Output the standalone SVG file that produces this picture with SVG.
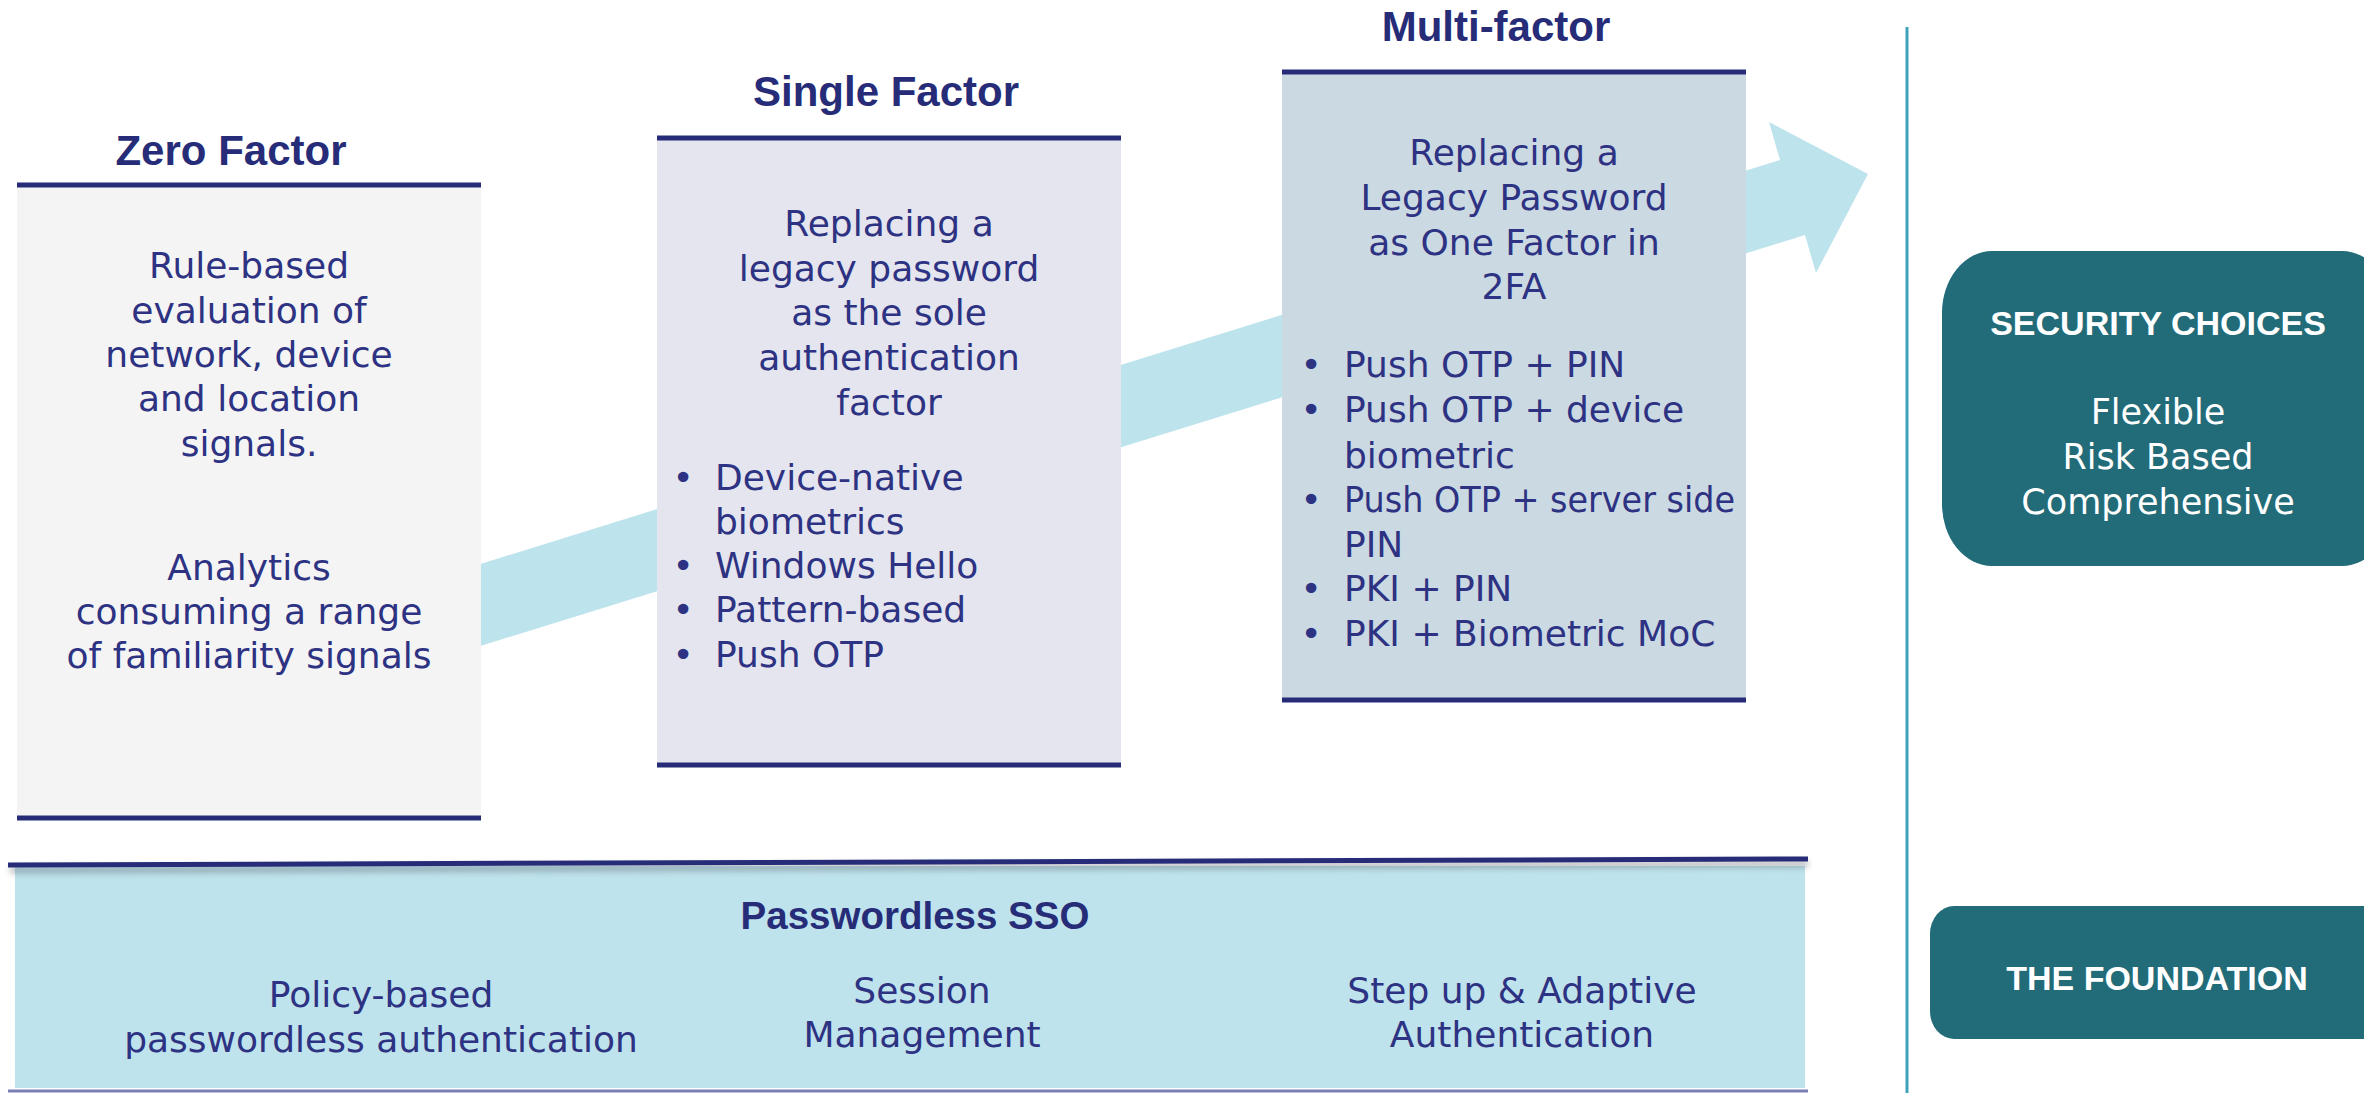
<svg xmlns="http://www.w3.org/2000/svg" width="2364" height="1093" viewBox="0 0 2364 1093">
<defs>
<filter id="sh" x="-5%" y="-200%" width="110%" height="500%"><feGaussianBlur stdDeviation="3"/></filter>
</defs>
<style>
.title{font-family:"Liberation Sans",Arial,sans-serif;font-weight:bold;font-size:42px;fill:#262c78;text-anchor:middle}
.body{font-family:"DejaVu Sans",sans-serif;font-size:36px;fill:#2d3282}
.c{text-anchor:middle}
.bul{text-anchor:middle}
.rule{stroke:#262c78;stroke-width:5}
.wt{font-family:"Liberation Sans",Arial,sans-serif;font-weight:bold;font-size:34px;fill:#ffffff;text-anchor:middle}
.wb{font-family:"DejaVu Sans",sans-serif;font-size:35px;fill:#ffffff;text-anchor:middle}
.teal{fill:#226b79}
</style>
<rect width="2364" height="1093" fill="#ffffff"/>

<g id="connectors">
<polygon points="400,589 1780,160 1769,122 1868,174 1816,273 1805,235 400,671" fill="#bde3ec"/>
<line x1="1907" y1="27" x2="1907" y2="1093" stroke="#3fa3bb" stroke-width="3"/>
</g>

<g id="zero-factor">
<rect x="17" y="185" width="464" height="633" fill="#f4f4f5"/>
<line class="rule" x1="17" y1="185" x2="481" y2="185"/>
<line class="rule" x1="17" y1="818" x2="481" y2="818"/>
<text class="title" x="231" y="165">Zero Factor</text>
<text class="body c" x="249"><tspan x="249" y="278">Rule-based</tspan><tspan x="249" y="323">evaluation of</tspan><tspan x="249" y="367">network, device</tspan><tspan x="249" y="411">and location</tspan><tspan x="249" y="456">signals.</tspan></text>
<text class="body c" x="249"><tspan x="249" y="580">Analytics</tspan><tspan x="249" y="624">consuming a range</tspan><tspan x="249" y="668">of familiarity signals</tspan></text>
</g>

<g id="single-factor">
<rect x="657" y="138" width="464" height="627" fill="#e4e5ee"/>
<line class="rule" x1="657" y1="138" x2="1121" y2="138"/>
<line class="rule" x1="657" y1="765" x2="1121" y2="765"/>
<text class="title" x="886" y="106">Single Factor</text>
<text class="body c"><tspan x="889" y="236">Replacing a</tspan><tspan x="889" y="281">legacy password</tspan><tspan x="889" y="325">as the sole</tspan><tspan x="889" y="370">authentication</tspan><tspan x="889" y="415">factor</tspan></text>
<text class="body bul" x="683" y="490">•</text>
<text class="body bul" x="683" y="578">•</text>
<text class="body bul" x="683" y="622">•</text>
<text class="body bul" x="683" y="667">•</text>
<text class="body"><tspan x="715" y="490">Device-native</tspan><tspan x="715" y="534">biometrics</tspan><tspan x="715" y="578">Windows Hello</tspan><tspan x="715" y="622">Pattern-based</tspan><tspan x="715" y="667">Push OTP</tspan></text>
</g>

<g id="multi-factor">
<rect x="1282" y="72" width="464" height="628" fill="#cbd9e3"/>
<line class="rule" x1="1282" y1="72" x2="1746" y2="72"/>
<line class="rule" x1="1282" y1="700" x2="1746" y2="700"/>
<text class="title" x="1496" y="41">Multi-factor</text>
<text class="body c"><tspan x="1514" y="165">Replacing a</tspan><tspan x="1514" y="210">Legacy Password</tspan><tspan x="1514" y="255">as One Factor in</tspan><tspan x="1514" y="299">2FA</tspan></text>
<text class="body bul" x="1311" y="377">•</text>
<text class="body bul" x="1311" y="422">•</text>
<text class="body bul" x="1311" y="512">•</text>
<text class="body bul" x="1311" y="601">•</text>
<text class="body bul" x="1311" y="646">•</text>
<text class="body" x="1344" y="377">Push OTP + PIN</text>
<text class="body" x="1344" y="422">Push OTP + device</text>
<text class="body" x="1344" y="468">biometric</text>
<text class="body" x="1344" y="512" textLength="391" lengthAdjust="spacingAndGlyphs">Push OTP + server side</text>
<text class="body" x="1344" y="557">PIN</text>
<text class="body" x="1344" y="601">PKI + PIN</text>
<text class="body" x="1344" y="646">PKI + Biometric MoC</text>
</g>

<g id="passwordless-sso">
<rect x="15" y="866" width="1790" height="222" fill="#bee3ec"/>
<line x1="10" y1="870" x2="1808" y2="864" stroke="#555a66" stroke-width="6" opacity="0.45" filter="url(#sh)"/>
<line x1="8" y1="865" x2="1808" y2="859" stroke="#262c78" stroke-width="5"/>
<line x1="8" y1="1091" x2="1808" y2="1091" stroke="#7a7fb5" stroke-width="3"/>
<text x="915" y="929" style="font-family:'Liberation Sans',Arial,sans-serif;font-weight:bold;font-size:38.5px;fill:#262c78;text-anchor:middle">Passwordless SSO</text>
<text class="body c"><tspan x="381" y="1007">Policy-based</tspan><tspan x="381" y="1052">passwordless authentication</tspan></text>
<text class="body c"><tspan x="922" y="1003">Session</tspan><tspan x="922" y="1047">Management</tspan></text>
<text class="body c"><tspan x="1522" y="1003">Step up &amp; Adaptive</tspan><tspan x="1522" y="1047">Authentication</tspan></text>
</g>

<g id="security-choices">
<rect class="teal" x="1942" y="251" width="450" height="315" rx="50" ry="62"/>
<text class="wt" x="2158" y="335">SECURITY CHOICES</text>
<text class="wb"><tspan x="2158" y="424">Flexible</tspan><tspan x="2158" y="469">Risk Based</tspan><tspan x="2158" y="514">Comprehensive</tspan></text>
</g>

<g id="the-foundation">
<rect class="teal" x="1930" y="906" width="460" height="133" rx="24" ry="28"/>
<text class="wt" x="2157" y="990">THE FOUNDATION</text>
</g>
</svg>
